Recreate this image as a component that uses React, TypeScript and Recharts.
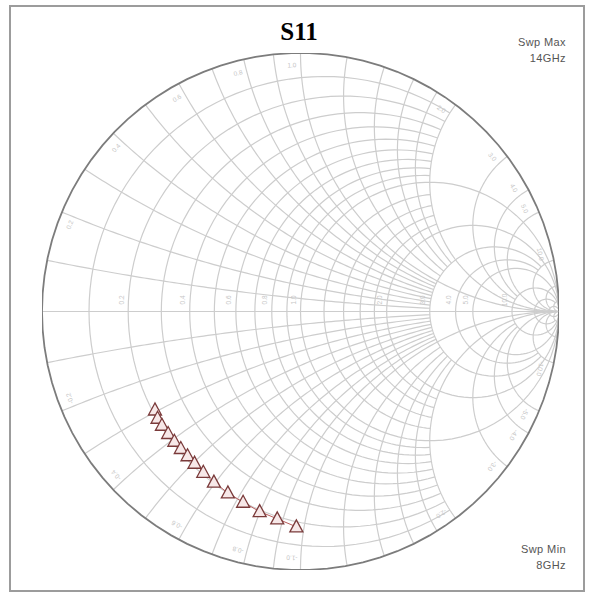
import React from "react";
import { ScatterChart, Scatter, XAxis, YAxis, ReferenceLine } from "recharts";

const chartTitle = "S11";
const sweepTop = ["Swp Max", "14GHz"];
const sweepBottom = ["Swp Min", "8GHz"];

// S11, as reflection coefficient (re, im)
const s11Re = [-0.563, -0.553, -0.536, -0.512, -0.488, -0.463, -0.437, -0.41, -0.376, -0.335, -0.281, -0.222, -0.158, -0.09, -0.016];
const s11Im = [-0.381, -0.413, -0.44, -0.472, -0.502, -0.53, -0.558, -0.587, -0.622, -0.66, -0.702, -0.738, -0.774, -0.802, -0.833];

// Smith grid: normalised resistance circles and reactance arcs, and where each one stops
const rCircles = [0.1, 0.2, 0.3, 0.4, 0.5, 0.6, 0.7, 0.8, 0.9, 1.0, 1.2, 1.4, 1.6, 1.8, 2.0, 3.0, 4.0, 5.0, 10, 20, 50];
const rCircleStop = [2, 2, 2, 2, 2, 2, 2, 2, 2, Infinity, 2, 2, 2, 2, Infinity, 10, 10, Infinity, Infinity, 50, Infinity];
const xArcs = [0.1, 0.2, 0.3, 0.4, 0.5, 0.6, 0.7, 0.8, 0.9, 1.0, 1.2, 1.4, 1.6, 1.8, 2.0, 3.0, 4.0, 5.0, 10, 20, 50];
const xArcStop = [3, 3, 3, 3, 3, 3, 3, 3, 3, Infinity, 3, 3, 3, 3, Infinity, 10, 10, Infinity, Infinity, 50, Infinity];
const rTickLabels = [0.2, 0.4, 0.6, 0.8, 1.0, 2.0, 3.0, 4.0, 5.0, 10.0];
const xTickLabels = [0.2, 0.4, 0.6, 0.8, 1.0, 2.0, 3.0, 4.0, 5.0, 10.0];

type Pt = { x: number; y: number };

// z = r + jx  ->  gamma = (z - 1) / (z + 1)
function gam(r: number, x: number): [number, number] {
  const den = (r + 1) * (r + 1) + x * x;
  return [(r * r + x * x - 1) / den, (2 * x) / den];
}

const N = 90;

function rCircle(r: number, xmax: number): Pt[] {
  const c = r / (1 + r);
  const rad = 1 / (1 + r);
  let a0 = 0.0005;
  if (isFinite(xmax)) {
    const [gx, gy] = gam(r, xmax);
    a0 = Math.atan2(gy, gx - c);
  }
  const pts: Pt[] = [];
  for (let i = 0; i <= N; i++) {
    const a = a0 + ((2 * Math.PI - 2 * a0) * i) / N;
    pts.push({ x: c + rad * Math.cos(a), y: rad * Math.sin(a) });
  }
  return pts;
}

function norm(a: number) {
  return a < 0 ? a + 2 * Math.PI : a;
}

function xArc(x: number, rmax: number, sign: number): Pt[] {
  const cy = 1 / x;
  const rad = 1 / x;
  const [sx, sy] = gam(0, x);
  const b0 = norm(Math.atan2(sy - cy, sx - 1));
  let b1 = 1.5 * Math.PI;
  if (isFinite(rmax)) {
    const [ex, ey] = gam(rmax, x);
    b1 = norm(Math.atan2(ey - cy, ex - 1));
  }
  const pts: Pt[] = [];
  for (let i = 0; i <= N; i++) {
    const b = b0 + ((b1 - b0) * i) / N;
    pts.push({ x: 1 + rad * Math.cos(b), y: sign * (cy + rad * Math.sin(b)) });
  }
  return pts;
}

function buildGrid(): Pt[][] {
  const out: Pt[][] = [];
  rCircles.forEach((r, i) => out.push(rCircle(r, rCircleStop[i])));
  xArcs.forEach((x, i) => {
    out.push(xArc(x, xArcStop[i], 1));
    out.push(xArc(x, xArcStop[i], -1));
  });
  return out;
}

function buildLabels() {
  const out: { x: number; y: number; t: string; rot: number }[] = [];
  rTickLabels.forEach((r) => {
    const gx = (r - 1) / (r + 1);
    out.push({ x: gx - 0.018, y: 0.045, t: r.toFixed(1), rot: -90 });
  });
  xTickLabels.forEach((x) => {
    const th = Math.PI - 2 * Math.atan(x);
    [1, -1].forEach((s) => {
      const a = s * (th + 0.035);
      out.push({
        x: 0.945 * Math.cos(a),
        y: 0.945 * Math.sin(a),
        t: (s < 0 ? "-" : "") + x.toFixed(1),
        rot: -((a * 180) / Math.PI - 90),
      });
    });
  });
  return out;
}

const outerCircle = rCircle(0, Infinity);
const trace = s11Re.map((re, i) => ({ x: re, y: s11Im[i] }));

const noDot = () => <g />;

const TickText = (p: any) => (
  <text
    x={p.cx}
    y={p.cy}
    transform={`rotate(${p.payload.rot} ${p.cx} ${p.cy})`}
    textAnchor="middle"
    fontSize={6.5}
    fontFamily="Liberation Sans, Arial, sans-serif"
    fill="#c6c6c6"
  >
    {p.payload.t}
  </text>
);

const Tri = (p: any) => (
  <polygon
    points={`${p.cx},${p.cy - 7} ${p.cx - 6.5},${p.cy + 5} ${p.cx + 6.5},${p.cy + 5}`}
    fill="#f7e8e8"
    stroke="#7a3a3a"
    strokeWidth={1.3}
  />
);

const small: React.CSSProperties = {
  position: "absolute",
  right: 27,
  fontFamily: "Liberation Sans, Arial, sans-serif",
  fontSize: 11,
  letterSpacing: 0.4,
  color: "#555",
  textAlign: "right",
  lineHeight: "16px",
};

export default function App() {
  const grid = buildGrid();
  const labels = buildLabels();
  return (
    <div style={{ position: "absolute", left: 0, top: 0, width: 593, height: 596, background: "#fff" }}>
      <div
        style={{
          position: "absolute",
          left: 9,
          top: 5,
          width: 572,
          height: 583,
          border: "2px solid #9c9c9c",
        }}
      />
      <ScatterChart width={593} height={596} margin={{ top: 53, right: 34, bottom: 26, left: 42 }}>
        <XAxis type="number" dataKey="x" domain={[-1, 1]} hide allowDataOverflow />
        <YAxis type="number" dataKey="y" domain={[-1, 1]} hide allowDataOverflow />
        <ReferenceLine y={0} stroke="#cdcdcd" strokeWidth={1.2} />
        {grid.map((pts, i) => (
          <Scatter
            key={i}
            data={pts}
            line={{ stroke: "#cdcdcd", strokeWidth: 1.2 }}
            lineType="joint"
            shape={noDot}
            isAnimationActive={false}
          />
        ))}
        <Scatter data={labels} shape={TickText} isAnimationActive={false} />
        <Scatter
          data={outerCircle}
          line={{ stroke: "#7c7c7c", strokeWidth: 1.8 }}
          lineType="joint"
          shape={noDot}
          isAnimationActive={false}
        />
        <Scatter
          data={trace}
          line={{ stroke: "#b85c5c", strokeWidth: 1 }}
          lineType="joint"
          shape={Tri}
          isAnimationActive={false}
        />
      </ScatterChart>
      <div
        style={{
          position: "absolute",
          left: 0,
          width: 598,
          top: 18,
          textAlign: "center",
          fontFamily: "Liberation Serif, Times New Roman, serif",
          fontWeight: "bold",
          fontSize: 25,
        }}
      >
        {chartTitle}
      </div>
      <div style={{ ...small, top: 34 }}>
        {sweepTop[0]}
        <br />
        {sweepTop[1]}
      </div>
      <div style={{ ...small, top: 541 }}>
        {sweepBottom[0]}
        <br />
        {sweepBottom[1]}
      </div>
    </div>
  );
}
